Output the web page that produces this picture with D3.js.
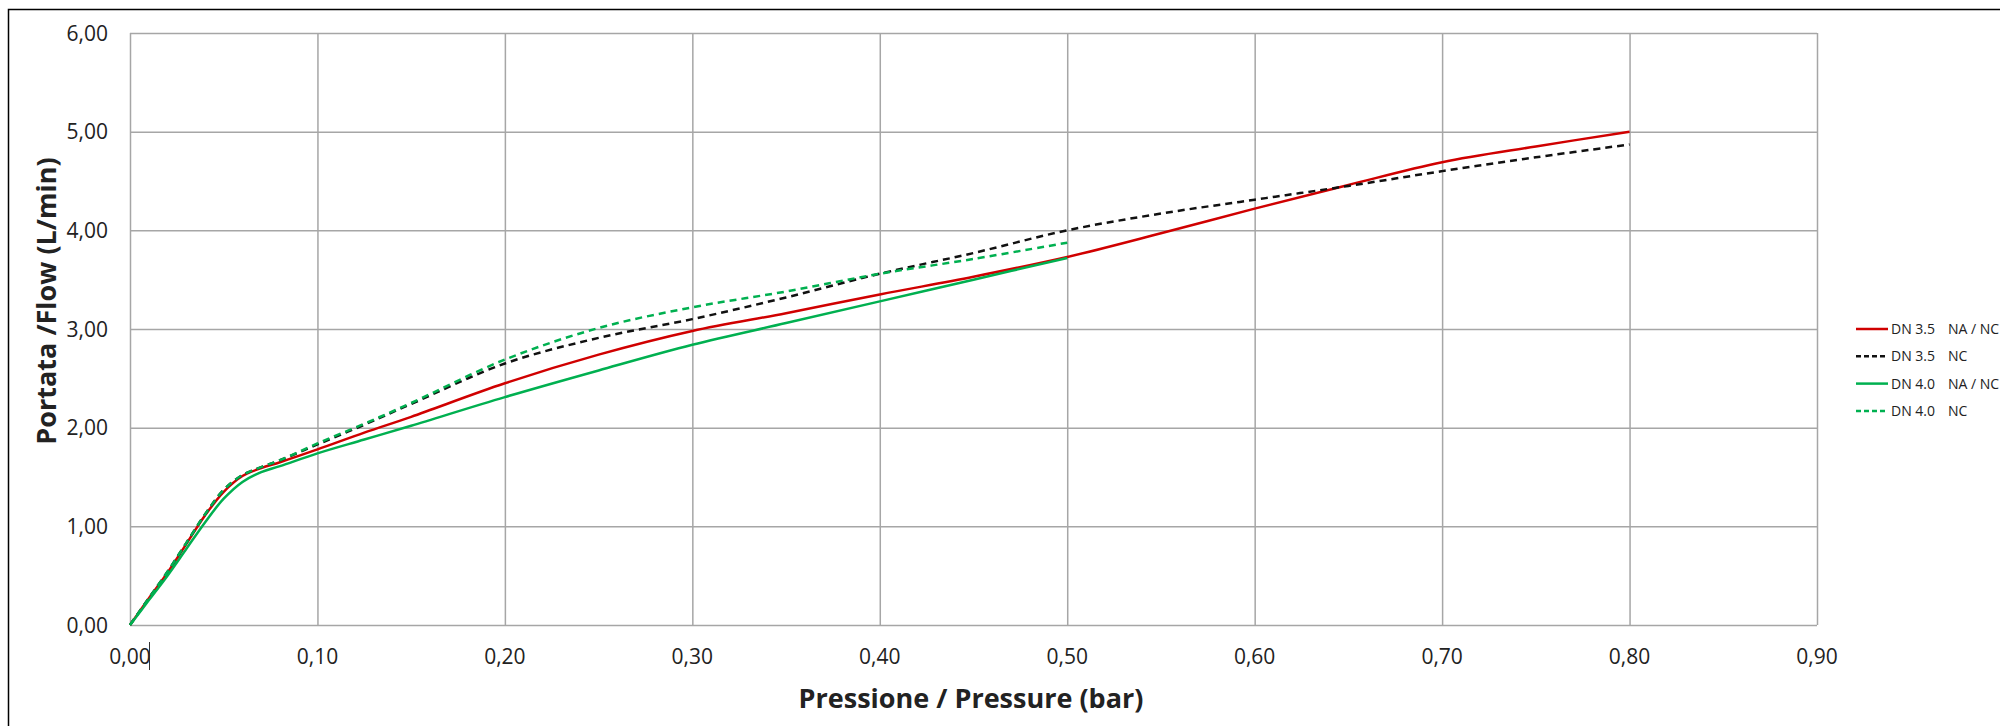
<!DOCTYPE html>
<html>
<head>
<meta charset="utf-8">
<script src="https://cdn.jsdelivr.net/npm/d3@7"></script>
<style>
  body { margin: 0; background: #fff; }
  text { font-family: "Open Sans", "DejaVu Sans", sans-serif; fill: #222; }
  .grid line { stroke: #a6a6a6; stroke-width: 1.5; }
  .grid path { display: none; }
</style>
</head>
<body>
<svg id="chart" width="2000" height="726"></svg>
<script>
// pressure values (bar) for each series
var pressure35 = [0, 0.01, 0.02, 0.03, 0.04, 0.05, 0.06, 0.07, 0.08, 0.10, 0.125, 0.15, 0.20, 0.25, 0.30, 0.35, 0.40, 0.45, 0.50, 0.55, 0.60, 0.65, 0.70, 0.75, 0.80];
var pressure40 = [0, 0.01, 0.02, 0.03, 0.04, 0.05, 0.06, 0.07, 0.08, 0.10, 0.125, 0.15, 0.20, 0.25, 0.30, 0.35, 0.40, 0.45, 0.50];

// flow values (L/min)
var flowDN35_NANC = [0, 0.27, 0.53, 0.82, 1.11, 1.35, 1.51, 1.59, 1.65, 1.78, 1.95, 2.11, 2.45, 2.74, 2.98, 3.16, 3.35, 3.53, 3.73, 3.97, 4.22, 4.46, 4.69, 4.85, 5.00];
var flowDN35_NC   = [0, 0.27, 0.54, 0.83, 1.12, 1.37, 1.52, 1.60, 1.67, 1.83, 2.03, 2.24, 2.65, 2.91, 3.10, 3.32, 3.56, 3.77, 4.00, 4.17, 4.31, 4.45, 4.60, 4.74, 4.87];
var flowDN40_NANC = [0, 0.25, 0.50, 0.77, 1.04, 1.28, 1.45, 1.55, 1.61, 1.74, 1.88, 2.02, 2.31, 2.58, 2.84, 3.06, 3.28, 3.50, 3.72];
var flowDN40_NC   = [0, 0.27, 0.54, 0.83, 1.12, 1.37, 1.52, 1.60, 1.67, 1.84, 2.04, 2.25, 2.69, 3.01, 3.22, 3.38, 3.56, 3.71, 3.875];

var seriesNames = ['DN 3.5', 'DN 3.5', 'DN 4.0', 'DN 4.0'];
var seriesTypes = ['NA / NC', 'NC', 'NA / NC', 'NC'];

var xTicks = [0, 0.1, 0.2, 0.3, 0.4, 0.5, 0.6, 0.7, 0.8, 0.9];
var yTicks = [0, 1, 2, 3, 4, 5, 6];

var series = [
  { name: seriesNames[0], type: seriesTypes[0], x: pressure35, y: flowDN35_NANC, color: '#d00000', dash: null },
  { name: seriesNames[1], type: seriesTypes[1], x: pressure35, y: flowDN35_NC, color: '#111111', dash: '7,5' },
  { name: seriesNames[2], type: seriesTypes[2], x: pressure40, y: flowDN40_NANC, color: '#00b050', dash: null },
  { name: seriesNames[3], type: seriesTypes[3], x: pressure40, y: flowDN40_NC, color: '#00b050', dash: '7,5' }
];

const svg = d3.select('#chart');

const plotLeft = 130, plotRight = 1817, plotTop = 33, plotBottom = 625;

const xScale = d3.scaleLinear().domain([0, 0.9]).range([plotLeft, plotRight]);
const yScale = d3.scaleLinear().domain([0, 6]).range([plotBottom, plotTop]);

const fmt = (d) => d.toFixed(2).replace('.', ',');

// outer chart border (runs off the right / bottom edge)
svg.append('rect')
  .attr('x', 8.5)
  .attr('y', 9.5)
  .attr('width', 2100)
  .attr('height', 800)
  .attr('fill', 'none')
  .attr('stroke', '#000')
  .attr('stroke-width', 1.5);

// grid
svg.append('g')
  .attr('class', 'grid')
  .attr('transform', `translate(0, ${plotBottom})`)
  .call(d3.axisBottom(xScale).tickValues(xTicks).tickSize(-(plotBottom - plotTop)).tickFormat(''));

svg.append('g')
  .attr('class', 'grid')
  .attr('transform', `translate(${plotLeft}, 0)`)
  .call(d3.axisLeft(yScale).tickValues(yTicks).tickSize(-(plotRight - plotLeft)).tickFormat(''));

// tick labels
svg.append('g').selectAll('text')
  .data(yTicks)
  .enter()
  .append('text')
  .attr('x', 108)
  .attr('y', (d) => yScale(d))
  .attr('dy', '0.36em')
  .attr('text-anchor', 'end')
  .attr('font-size', '21px')
  .text(fmt);

svg.append('g').selectAll('text')
  .data(xTicks)
  .enter()
  .append('text')
  .attr('x', (d) => xScale(d))
  .attr('y', 664)
  .attr('text-anchor', 'middle')
  .attr('font-size', '21px')
  .text(fmt);

// little text cursor left in the 0,00 label
svg.append('line')
  .attr('x1', xScale(0) + 19.5)
  .attr('x2', xScale(0) + 19.5)
  .attr('y1', 642)
  .attr('y2', 670)
  .attr('stroke', '#333')
  .attr('stroke-width', 1);

// series lines
const line = d3.line()
  .x((d) => xScale(d[0]))
  .y((d) => yScale(d[1]))
  .curve(d3.curveCatmullRom.alpha(0.5));

series.forEach(function(s) {
  var pts = s.x.map((p, i) => [p, s.y[i]]);
  svg.append('path')
    .datum(pts)
    .attr('fill', 'none')
    .attr('stroke', s.color)
    .attr('stroke-width', 2.5)
    .attr('stroke-dasharray', s.dash)
    .attr('d', line);
});

// axis titles
svg.append('text')
  .attr('x', 971)
  .attr('y', 708)
  .attr('text-anchor', 'middle')
  .attr('font-size', '27px')
  .attr('font-weight', 'bold')
  .text('Pressione / Pressure (bar)');

svg.append('text')
  .attr('transform', 'translate(56, 301) rotate(-90)')
  .attr('text-anchor', 'middle')
  .attr('font-size', '27px')
  .attr('font-weight', 'bold')
  .text('Portata /Flow (L/min)');

// legend
const legend = svg.append('g').selectAll('g')
  .data(series)
  .enter()
  .append('g')
  .attr('transform', (d, i) => `translate(1856, ${329 + i * 27.3})`);

legend.append('line')
  .attr('x1', 0)
  .attr('x2', 32)
  .attr('stroke', (d) => d.color)
  .attr('stroke-width', 2.5)
  .attr('stroke-dasharray', (d) => d.dash ? '5,3' : null);

legend.append('text')
  .attr('x', 35)
  .attr('dy', '0.36em')
  .attr('font-size', '14px')
  .text((d) => d.name);

legend.append('text')
  .attr('x', 92)
  .attr('dy', '0.36em')
  .attr('font-size', '14px')
  .text((d) => d.type);
</script>
</body>
</html>
